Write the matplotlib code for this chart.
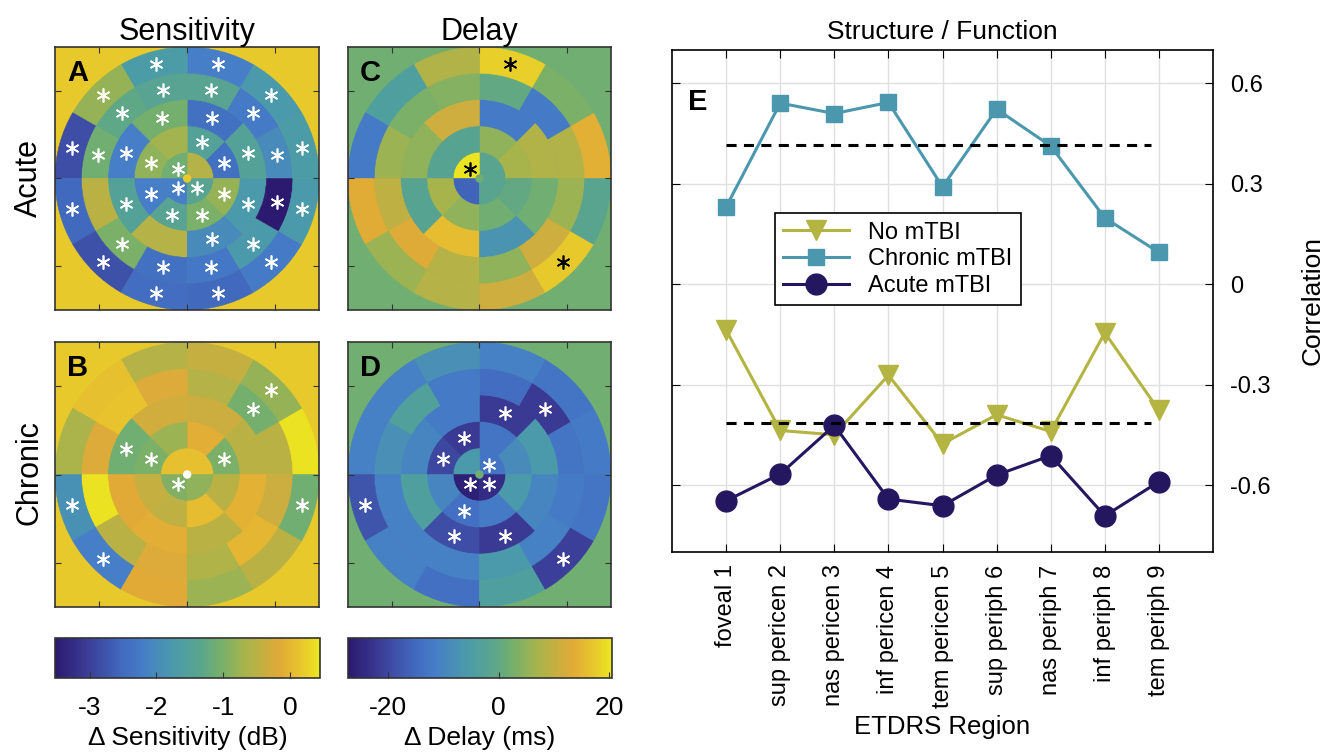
import numpy as np
import matplotlib.pyplot as plt
from matplotlib.patches import Wedge, Circle
from matplotlib.collections import PatchCollection
from matplotlib.colors import LinearSegmentedColormap, Normalize
from matplotlib.cm import ScalarMappable

plt.rcParams['font.family'] = ['Liberation Sans', 'DejaVu Sans']

# grid layout: number of sectors in each ring, ring radii (deg)
ring_sectors = [4, 8, 8, 12, 12]
ring_edges = [0, 6, 12, 18, 24, 30]

# sector values, ring by ring, sectors counter-clockwise from 3 o'clock
sens_acute = [
    [-0.55, -1.1, -2.2, -1.4],
    [-2.4, -1.5, -0.7, -0.85, -2.2, -1.4, -1.0, -0.8],
    [-1.5, -2.4, -1.05, -2.2, -1.5, -0.55, -2.0, -1.75],
    [-2.0, -2.25, -1.4, -1.4, -1.3, -1.1, -0.5, -1.0, -2.4, -2.3, -1.75, -3.5],
    [-1.7, -1.75, -2.2, -1.7, -0.8, -2.85, -2.5, -2.8, -2.45, -2.5, -2.25, -1.75],
]
sens_acute_sig = [
    [0, 1, 1, 1],
    [1, 1, 0, 1, 1, 1, 1, 1],
    [1, 1, 1, 1, 1, 0, 1, 1],
    [1, 1, 1, 1, 1, 1, 0, 1, 1, 1, 1, 1],
    [1, 1, 1, 1, 1, 1, 1, 1, 1, 1, 1, 1],
]
sens_chronic = [
    [0.1, 0.1, -0.95, -0.85],
    [-1.0, -0.1, -0.75, -1.0, -0.4, -0.45, 0.05, -0.5],
    [-0.5, -0.35, -0.3, -1.1, -0.15, -0.1, -0.5, -0.05],
    [-0.5, -1.05, -0.55, -0.2, 0.15, -0.2, 0.4, -0.5, -0.2, -0.6, 0.0, -0.35],
    [0.4, -0.8, -0.4, -0.55, 0.1, -0.65, -1.9, -2.2, -0.15, -0.75, -0.5, -1.1],
]
sens_chronic_sig = [
    [0, 0, 1, 0],
    [1, 0, 0, 1, 0, 0, 0, 0],
    [0, 0, 0, 1, 0, 0, 0, 0],
    [0, 1, 0, 0, 0, 0, 0, 0, 0, 0, 0, 0],
    [0, 1, 0, 0, 0, 0, 1, 1, 0, 0, 0, 1],
]
delay_acute = [
    [-1.5, 20, -16, -1.5],
    [7, 5, -2, -2, 7, 5, 2, 0],
    [8, -12, 11, 5, -2, 16, -7, 2],
    [8, -12, 0, 4, 3, 6, 9.5, 13, 8.5, 5, 11, 6],
    [14, 3, 18, 8, -4, -12, 13.5, 6, 8.5, 11, 17.5, -1.5],
]
delay_acute_sig = [
    [0, 1, 0, 0],
    [0, 0, 0, 0, 0, 0, 0, 0],
    [0, 0, 0, 0, 0, 0, 0, 0],
    [0, 0, 0, 0, 0, 0, 0, 0, 0, 0, 0, 0],
    [0, 0, 1, 0, 0, 0, 0, 0, 0, 0, 1, 0],
]
delay_chronic = [
    [-13, -6, -26, -24],
    [-9, -13, -22, -20, -10, -14, -12, -6],
    [-6, -22, -12, -10, -4, -19, -22, -10],
    [-13, -22, -14.5, -12, -3.5, -8, -11, -11, -11, -6, -11, -12],
    [-12, -13, -11, -8, -11, -11, -18, -11, -14, -4, -21, -13],
]
delay_chronic_sig = [
    [1, 0, 1, 1],
    [0, 0, 1, 1, 0, 1, 0, 0],
    [0, 1, 0, 0, 0, 1, 1, 0],
    [0, 1, 0, 0, 0, 0, 0, 0, 0, 0, 0, 0],
    [0, 0, 0, 0, 0, 0, 1, 0, 0, 0, 1, 0],
]
sens_bg = 0.2
delay_bg = 2.0
sens_range = (-3.52, 0.45)
delay_range = (-27.3, 20.5)

# panel E
regions = ['foveal 1', 'sup pericen 2', 'nas pericen 3', 'inf pericen 4',
           'tem pericen 5', 'sup periph 6', 'nas periph 7', 'inf periph 8',
           'tem periph 9']
no_mtbi = [-0.137, -0.437, -0.45, -0.272, -0.477, -0.39, -0.44, -0.145, -0.377]
chronic_mtbi = [0.231, 0.541, 0.51, 0.543, 0.291, 0.523, 0.413, 0.198, 0.095]
acute_mtbi = [-0.647, -0.567, -0.422, -0.642, -0.662, -0.57, -0.512, -0.692, -0.59]
sig_r = 0.415

# muted parula-like colormap
anchors = [(0.00, (42, 25, 110)), (0.12, (60, 60, 150)), (0.25, (65, 105, 190)),
           (0.33, (70, 125, 200)), (0.45, (75, 155, 170)), (0.55, (90, 165, 140)),
           (0.62, (115, 175, 110)), (0.72, (168, 180, 75)), (0.85, (225, 170, 55)),
           (0.93, (232, 197, 45)), (1.00, (236, 232, 30))]
cmap = LinearSegmentedColormap.from_list(
    'parula_m', [(t, tuple(c / 255 for c in rgb)) for t, rgb in anchors])

fig = plt.figure(figsize=(13.25, 7.52), dpi=100)


def draw_map(rect, values, sig, bg, centre_col, star_col, norm, letter):
    ax = fig.add_axes(rect)
    ax.set_facecolor(cmap(norm(bg)))
    patches, vals, sx, sy = [], [], [], []
    for i, n in enumerate(ring_sectors):
        r0, r1 = ring_edges[i], ring_edges[i + 1]
        step = 360 / n
        for j in range(n):
            w = None if r0 == 0 else r1 - r0
            patches.append(Wedge((0, 0), r1, j * step, (j + 1) * step, width=w))
            vals.append(values[i][j])
            if sig[i][j]:
                a = np.deg2rad((j + 0.5) * step)
                rm = (r0 + r1) / 2
                sx.append(rm * np.cos(a))
                sy.append(rm * np.sin(a))
    pc = PatchCollection(patches, cmap=cmap, norm=norm, edgecolor='face', linewidth=0.4)
    pc.set_array(np.array(vals))
    ax.add_collection(pc)
    ax.add_patch(Circle((0, 0), 0.8, color=centre_col, zorder=3))
    ax.plot(sx, sy, linestyle='none', marker=(6, 2, 0), ms=10, mew=1.2,
            color=star_col, zorder=4)
    ax.set_xlim(-30, 30)
    ax.set_ylim(-30, 30)
    ax.set_xticks([-20, 0, 20])
    ax.set_yticks([-20, 0, 20])
    ax.tick_params(direction='in', length=4, top=True, right=True,
                   labelbottom=False, labelleft=False, color='0.2')
    for s in ax.spines.values():
        s.set_color('0.2')
        s.set_linewidth(1.2)
    ax.text(0.045, 0.955, letter, transform=ax.transAxes, ha='left', va='top',
            fontsize=21, fontweight='bold', zorder=5)
    return ax


sens_norm = Normalize(*sens_range)
delay_norm = Normalize(*delay_range)

axA = draw_map([0.0415, 0.5878, 0.1995, 0.3497], sens_acute, sens_acute_sig,
               sens_bg, cmap(sens_norm(sens_bg)), 'white', sens_norm, 'A')
axB = draw_map([0.0415, 0.1928, 0.1995, 0.3524], sens_chronic, sens_chronic_sig,
               sens_bg, 'white', 'white', sens_norm, 'B')
axC = draw_map([0.2626, 0.5878, 0.1985, 0.3497], delay_acute, delay_acute_sig,
               delay_bg, cmap(delay_norm(delay_bg)), 'black', delay_norm, 'C')
axD = draw_map([0.2626, 0.1928, 0.1985, 0.3524], delay_chronic, delay_chronic_sig,
               delay_bg, cmap(delay_norm(delay_bg)), 'white', delay_norm, 'D')

axA.set_title('Sensitivity', fontsize=22, pad=5)
axC.set_title('Delay', fontsize=22, pad=5)
fig.text(0.022, 0.763, 'Acute', rotation=90, fontsize=22, ha='center', va='center')
fig.text(0.022, 0.371, 'Chronic', rotation=90, fontsize=22, ha='center', va='center')

# colour bars
for rect, norm, ticks, label in [
        ([0.0415, 0.0984, 0.2, 0.0532], sens_norm, [-3, -2, -1, 0], '\u0394 Sensitivity (dB)'),
        ([0.2626, 0.0984, 0.1993, 0.0532], delay_norm, [-20, 0, 20], '\u0394 Delay (ms)')]:
    cax = fig.add_axes(rect)
    cb = fig.colorbar(ScalarMappable(norm=norm, cmap=cmap), cax=cax,
                      orientation='horizontal')
    cb.set_ticks(ticks)
    cb.set_ticklabels([str(t) for t in ticks])
    cax.tick_params(direction='in', length=4, labelsize=19, pad=13, color='0.2')
    cb.outline.set_linewidth(1.2)
    cb.outline.set_edgecolor('0.2')
    cb.set_label(label, fontsize=19, labelpad=4)

# panel E
axE = fig.add_axes([0.5072, 0.266, 0.4083, 0.6676])
x = np.arange(1, len(regions) + 1)
axE.plot(x, no_mtbi, color='#b4b443', lw=2.2, marker='v', ms=15, label='No mTBI')
axE.plot(x, chronic_mtbi, color='#4b98ae', lw=2.2, marker='s', ms=11, label='Chronic mTBI')
axE.plot(x, acute_mtbi, color='#251660', lw=2.2, marker='o', ms=15, label='Acute mTBI')
for yv in (sig_r, -sig_r):
    axE.plot([1, 8.85], [yv, yv], color='black', lw=2.2, dashes=(3.3, 2.4))
axE.set_xlim(0, 10)
axE.set_ylim(-0.8, 0.7)
axE.set_xticks(x)
axE.set_xticklabels(regions, rotation=90, fontsize=17)
axE.set_yticks([-0.6, -0.3, 0, 0.3, 0.6])
axE.set_yticklabels(['-0.6', '-0.3', '0', '0.3', '0.6'], fontsize=17)
axE.tick_params(direction='in', length=6, top=True, right=True, left=True,
                labelleft=False, labelright=True, pad=12)
axE.tick_params(axis='x', pad=9)
axE.grid(True, color='0.88', lw=1)
axE.set_axisbelow(True)
axE.yaxis.set_label_position('right')
axE.set_ylabel('Correlation', fontsize=19, labelpad=22)
axE.set_xlabel('ETDRS Region', fontsize=18.5, labelpad=5)
axE.set_title('Structure / Function', fontsize=19, pad=8)
for s in axE.spines.values():
    s.set_linewidth(1.2)
axE.text(0.03, 0.925, 'E', transform=axE.transAxes, ha='left', va='top',
         fontsize=21, fontweight='bold')
leg = axE.legend(loc='upper left', bbox_to_anchor=(0.168, 0.698), fontsize=17,
                 fancybox=False, framealpha=1, edgecolor='black',
                 handlelength=2.8, borderpad=0.35, labelspacing=0.2)
leg.get_frame().set_linewidth(1.2)

fig.savefig('out.png', dpi=100)
